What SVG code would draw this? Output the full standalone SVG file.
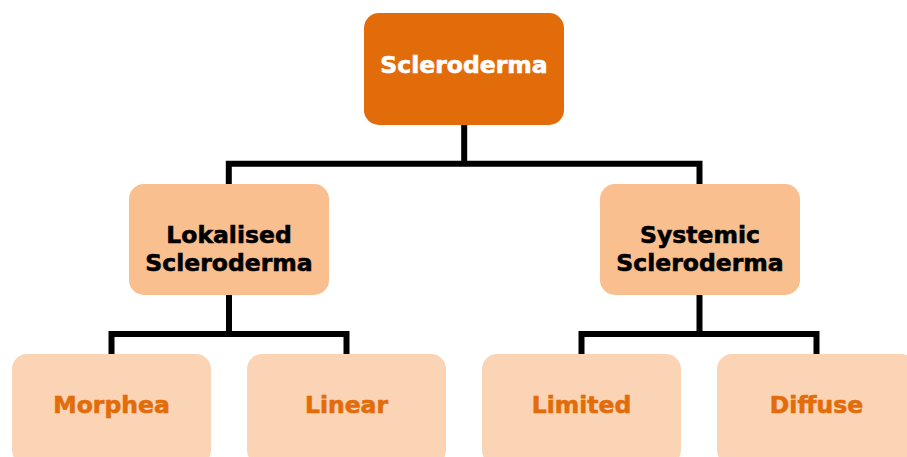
<svg xmlns="http://www.w3.org/2000/svg" width="907" height="457" viewBox="0 0 907 457">
<style>
.t{font-family:"DejaVu Sans","Verdana",sans-serif;font-weight:bold;font-size:23.5px;text-anchor:middle;stroke-width:0.6px}
.l1{fill:#E36C0A}
.l2{fill:#F9BF8F}
.l3{fill:#FAD4B4}
.w{fill:#FFFFFF;stroke:#FFFFFF}
.k{fill:#000000;stroke:#000000}
.o{fill:#E36C0A;stroke:#E36C0A}
.c{stroke:#000;stroke-width:6;fill:none}
</style>
<rect width="907" height="457" fill="#fff"/>
<g id="connectors">
<path class="c" d="M464.2 125V163.7M228.8 185V163.7H699.5V185"/>
<path class="c" d="M229 295V334M111.5 354V334H346.5V354"/>
<path class="c" d="M699.5 295V334M581.5 354V334H816.5V354"/>
</g>
<g id="scleroderma">
<rect class="l1" x="364" y="13" width="200" height="112" rx="15"/>
<text class="t w" x="464" y="73">Scleroderma</text>
</g>
<g id="lokalised">
<rect class="l2" x="129" y="184" width="200" height="111" rx="15"/>
<text class="t k" x="229" y="243">Lokalised</text>
<text class="t k" x="229" y="271">Scleroderma</text>
</g>
<g id="systemic">
<rect class="l2" x="600" y="184" width="200" height="111" rx="15"/>
<text class="t k" x="700" y="243">Systemic</text>
<text class="t k" x="700" y="271">Scleroderma</text>
</g>
<g id="morphea">
<rect class="l3" x="12" y="354" width="199" height="111" rx="15"/>
<text class="t o" x="111.5" y="413">Morphea</text>
</g>
<g id="linear">
<rect class="l3" x="247" y="354" width="199" height="111" rx="15"/>
<text class="t o" x="346.5" y="413">Linear</text>
</g>
<g id="limited">
<rect class="l3" x="482" y="354" width="199" height="111" rx="15"/>
<text class="t o" x="581.5" y="413">Limited</text>
</g>
<g id="diffuse">
<rect class="l3" x="717" y="354" width="199" height="111" rx="15"/>
<text class="t o" x="816.5" y="413">Diffuse</text>
</g>
</svg>
